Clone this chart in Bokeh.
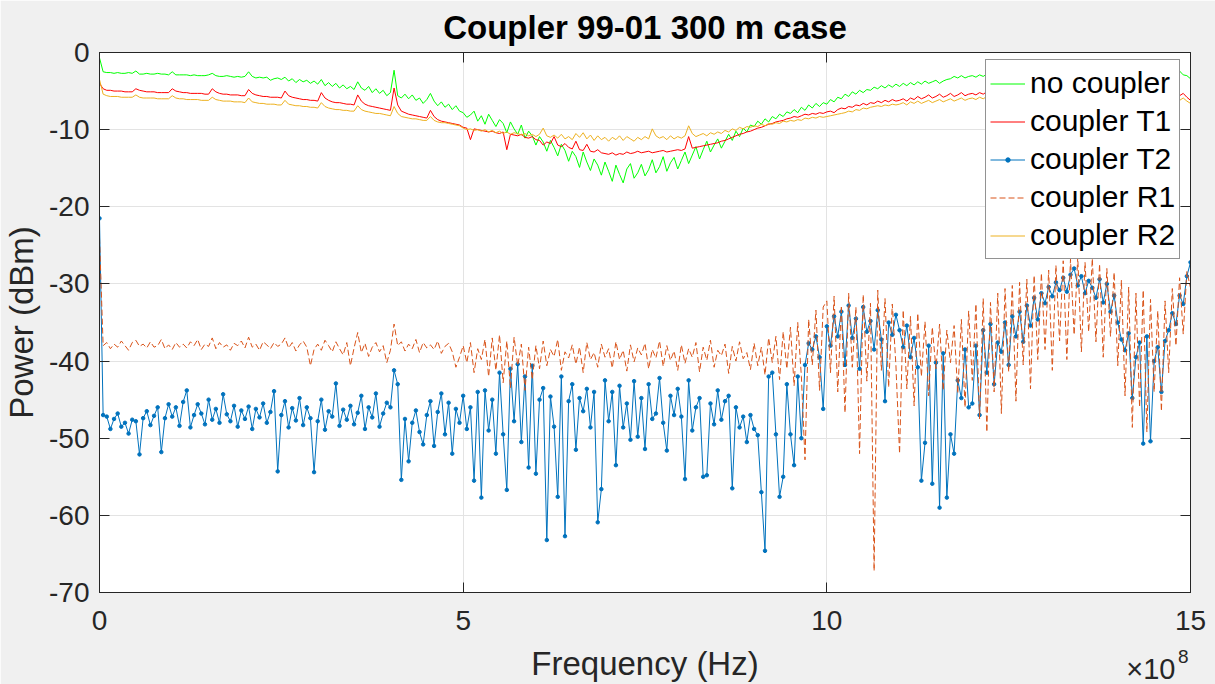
from bokeh.plotting import figure
from bokeh.models import (Range1d, LinearAxis, Legend, LegendItem, Title,
                          CustomJSTickFormatter, FixedTicker)
from bokeh.embed import file_html
from bokeh.resources import INLINE

# Sweep: 0 .. 1.5 GHz in 5 MHz steps
freq_step_hz = 5e6
frequency_hz = [i * freq_step_hz for i in range(301)]

# Measured power (dBm) for each configuration, one row per 100 MHz
no_coupler = [
    -0.7, -2.5, -2.6, -2.6, -2.7, -2.6, -2.7, -2.7, -2.6, -2.7, -2.4, -2.8, -2.8, -2.7, -2.8, -2.8, -2.7, -2.8, -2.8, -2.9,
    -2.5, -2.9, -2.9, -2.9, -2.9, -3.0, -2.9, -3.0, -3.0, -3.0, -2.9, -2.7, -3.0, -3.1, -3.1, -3.0, -3.1, -3.2, -3.1, -3.2,
    -3.1, -2.5, -3.1, -3.3, -3.2, -3.3, -3.2, -3.6, -3.4, -3.3, -3.5, -3.2, -3.7, -3.4, -3.9, -3.5, -3.8, -3.6, -4.0, -3.7,
    -4.1, -3.5, -4.3, -3.9, -4.4, -4.0, -4.6, -4.2, -4.7, -4.4, -4.8, -3.8, -4.6, -4.9, -4.4, -5.2, -4.7, -5.3, -4.9, -5.6,
    -5.2, -2.3, -5.6, -5.9, -5.4, -6.0, -5.5, -6.2, -5.9, -6.6, -6.1, -5.3, -6.3, -6.9, -6.4, -7.1, -6.7, -7.4, -6.9, -7.6,
    -7.8, -8.4, -8.1, -7.6, -8.9, -8.2, -9.3, -8.0, -8.8, -9.6, -8.7, -9.2, -10.4, -9.0, -9.9, -10.6, -9.4, -11.1, -10.2, -10.8,
    -12.0, -10.9, -11.6, -12.8, -11.4, -12.3, -13.4, -11.9, -12.7, -14.1, -12.8, -13.5, -14.9, -12.9, -14.2, -15.3, -13.8, -14.6, -15.9, -14.2,
    -15.4, -16.7, -14.6, -15.8, -16.9, -15.1, -14.4, -16.3, -15.6, -14.5, -16.0, -15.2, -13.9, -15.6, -14.8, -13.5, -15.4, -14.3, -13.6, -15.1,
    -14.0, -12.9, -14.4, -13.3, -12.2, -13.8, -12.6, -11.5, -12.9, -12.0, -11.2, -12.4, -11.5, -10.6, -11.4, -10.2, -10.9, -9.8, -10.3, -9.4,
    -9.6, -8.9, -9.3, -8.6, -9.0, -8.3, -8.6, -8.0, -8.3, -7.7, -7.9, -7.4, -7.8, -7.1, -7.5, -6.8, -7.2, -6.6, -7.0, -6.5,
    -6.7, -6.1, -6.4, -5.8, -6.0, -5.4, -5.7, -5.1, -5.4, -4.9, -5.2, -4.8, -4.9, -4.5, -4.7, -4.3, -4.6, -4.2, -4.5, -4.1,
    -4.4, -4.0, -4.3, -3.9, -4.2, -3.8, -4.1, -3.7, -4.0, -3.8, -3.6, -4.0, -3.7, -3.5, -3.4, -3.1, -3.3, -3.0, -3.3, -3.1,
    -3.0, -3.2, -2.9, -3.1, -2.8, -3.0, -2.9, -2.7, -2.9, -2.6, -2.8, -2.7, -2.5, -2.7, -2.6, -2.4, -2.6, -2.5, -2.3, -2.5,
    -2.4, -2.2, -2.4, -2.3, -2.1, -2.3, -2.2, -2.0, -2.2, -2.1, -1.9, -2.1, -2.0, -1.8, -2.0, -1.9, -1.7, -1.9, -1.8, -1.6,
    -1.8, -1.7, -1.5, -1.7, -1.6, -1.4, -1.7, -1.8, -1.6, -1.9, -2.0, -2.2, -2.1, -2.4, -2.2, -2.5, -2.8, -2.4, -2.9, -3.0,
    -3.4,
]

coupler_t1 = [
    -4.0, -4.7, -4.9, -4.9, -5.0, -5.0, -5.0, -5.1, -5.1, -5.1, -4.7, -4.9, -5.0, -5.1, -5.1, -5.1, -5.2, -5.2, -5.2, -5.2,
    -4.7, -5.0, -5.1, -5.2, -5.2, -5.3, -5.3, -5.3, -5.3, -5.4, -5.4, -4.7, -5.1, -5.3, -5.4, -5.4, -5.5, -5.5, -5.5, -5.6,
    -5.6, -4.8, -5.3, -5.5, -5.6, -5.7, -5.7, -5.8, -5.8, -5.8, -5.9, -5.0, -5.6, -5.8, -5.9, -6.0, -6.1, -6.1, -6.2, -6.2,
    -6.3, -5.2, -5.9, -6.2, -6.4, -6.5, -6.5, -6.6, -6.7, -6.7, -6.8, -5.5, -6.3, -6.7, -6.9, -7.0, -7.1, -7.2, -7.3, -7.4,
    -7.5, -4.6, -6.8, -7.6, -7.8, -8.0, -8.1, -8.2, -8.3, -8.4, -8.5, -7.5, -8.3, -8.7, -8.9, -9.0, -9.1, -9.2, -9.3, -9.4,
    -9.7, -9.8, -11.3, -9.9, -10.0, -10.1, -10.2, -10.3, -10.2, -10.4, -10.5, -10.3, -12.6, -10.6, -10.7, -10.8, -10.6, -11.0, -11.1, -10.9,
    -11.3, -11.4, -12.0, -11.6, -11.8, -10.9, -12.0, -12.2, -11.8, -12.3, -12.5, -11.5, -12.6, -12.7, -11.9, -12.8, -12.9, -12.6, -13.0, -13.1,
    -13.2, -13.0, -13.3, -13.1, -13.2, -12.9, -13.1, -13.0, -12.8, -13.0, -12.9, -12.8, -13.0, -12.9, -12.8, -12.7, -12.9, -12.8, -12.7, -12.6,
    -12.7, -12.5, -10.9, -12.4, -12.3, -12.2, -12.1, -12.0, -11.9, -11.8, -11.7, -11.5, -11.4, -11.2, -11.0, -10.8, -10.6, -10.5, -10.3, -10.2,
    -10.0, -9.8, -9.7, -9.5, -9.3, -9.2, -9.0, -8.9, -8.8, -8.6, -8.5, -8.3, -8.4, -8.2, -8.0, -8.1, -7.9, -8.0, -7.8, -7.9,
    -7.7, -7.6, -7.8, -7.4, -7.2, -7.3, -7.0, -7.1, -6.8, -6.9, -6.6, -6.8, -6.5, -6.6, -6.3, -6.5, -6.2, -6.4, -6.1, -6.3,
    -6.2, -6.0, -6.3, -5.9, -6.1, -5.7, -6.0, -5.8, -5.5, -5.9, -5.7, -5.4, -5.8, -5.6, -5.3, -5.7, -5.5, -5.2, -5.6, -5.4,
    -5.3, -5.5, -5.2, -5.4, -5.1, -5.3, -5.0, -5.2, -4.9, -5.1, -4.8, -5.0, -4.9, -4.7, -4.9, -4.6, -4.8, -4.5, -4.7, -4.6,
    -4.4, -4.6, -4.3, -4.5, -4.2, -4.4, -4.1, -4.3, -4.2, -4.4, -4.1, -4.3, -4.2, -4.4, -4.3, -4.5, -4.4, -4.6, -4.5, -4.7,
    -4.6, -4.8, -4.7, -4.9, -4.8, -5.0, -4.8, -5.1, -4.9, -5.0, -4.8, -5.2, -4.9, -5.3, -5.0, -5.4, -5.1, -5.6, -5.3, -5.8,
    -6.2,
]

coupler_t2 = [
    -21.5, -47.0, -47.2, -48.8, -47.5, -46.8, -48.5, -48.0, -49.4, -47.6, -47.8, -52.1, -47.4, -46.5, -48.3, -47.1, -46.0, -51.8, -47.4, -45.6,
    -47.2, -46.0, -48.4, -45.3, -43.8, -48.6, -47.0, -45.6, -46.8, -48.2, -45.0, -47.6, -46.2, -48.0, -44.3, -46.9, -47.8, -45.8, -48.5, -46.4,
    -47.5, -45.9, -48.8, -46.2, -47.3, -45.5, -48.0, -46.6, -43.9, -54.3, -47.0, -45.2, -48.6, -46.1, -47.7, -44.8, -48.3, -46.0, -47.4, -54.4,
    -47.8, -45.0, -48.9, -46.5, -47.2, -42.9, -48.4, -46.3, -47.6, -45.8, -48.2, -46.7, -44.5, -48.8, -46.0, -47.3, -44.2, -48.5, -46.8, -45.4,
    -46.0, -41.2, -43.0, -55.4, -47.5, -53.0, -48.0, -46.4, -49.2, -50.8, -47.0, -45.2, -51.0, -46.6, -44.2, -49.5, -45.4, -52.0, -46.2, -48.0,
    -44.5, -48.8, -46.0, -55.5, -44.0, -57.7, -43.8, -49.0, -45.0, -52.0, -41.5, -49.5, -56.7, -41.0, -47.8, -40.4, -50.5, -42.0, -53.8, -40.6,
    -54.6, -45.0, -43.5, -63.2, -44.6, -48.5, -57.6, -42.0, -62.7, -45.2, -43.0, -51.5, -44.8, -46.5, -43.6, -48.6, -44.0, -60.9, -56.6, -42.5,
    -47.8, -44.0, -53.5, -43.2, -48.6, -45.5, -50.2, -42.6, -49.8, -44.8, -51.4, -43.0, -47.5, -46.8, -42.2, -48.0, -51.6, -44.5, -47.0, -43.6,
    -47.2, -55.3, -42.5, -49.0, -46.0, -44.8, -55.0, -54.8, -45.5, -48.2, -43.8, -47.6, -45.2, -44.5, -56.5, -46.0, -48.6, -47.2, -50.5, -47.0,
    -48.8, -49.6, -57.0, -64.6, -42.0, -41.5, -49.5, -57.6, -55.0, -43.0, -49.5, -53.5, -42.0, -50.0, -40.5, -37.7, -38.5, -36.8, -39.5, -46.2,
    -35.5, -38.0, -34.2, -36.8, -33.6, -40.5, -32.8, -37.0, -34.5, -41.0, -33.0, -36.2, -34.8, -38.5, -33.4, -37.2, -45.2, -35.0, -36.6, -34.0,
    -36.0, -38.2, -35.4, -39.5, -37.0, -40.8, -55.5, -50.6, -38.0, -55.9, -40.2, -59.0, -39.0, -57.7, -49.5, -52.0, -42.5, -44.8, -38.5, -46.0,
    -45.5, -38.0, -47.0, -36.0, -41.5, -35.2, -43.0, -37.6, -38.8, -35.0, -40.5, -34.2, -36.8, -33.6, -37.5, -32.8, -35.4, -31.8, -34.6, -31.2,
    -32.5, -30.4, -31.6, -29.8, -30.8, -29.2, -31.0, -28.8, -28.0, -30.2, -29.0, -31.2, -29.6, -30.5, -31.8, -29.4, -32.4, -30.0, -33.6, -31.5,
    -35.0, -37.2, -38.6, -36.4, -44.8, -39.5, -37.6, -50.7, -36.8, -50.4, -40.0, -38.2, -44.0, -37.4, -36.0, -33.8, -35.2, -31.5, -32.6, -29.0,
    -27.2,
]

coupler_r1 = [
    -24.0, -38.0, -37.6, -38.4, -37.8, -38.2, -37.4, -38.0, -38.6, -37.6, -37.3, -38.1, -37.8, -38.3, -37.5, -38.2, -38.0, -37.2, -38.4, -37.9,
    -38.5, -37.6, -38.2, -37.8, -38.3, -37.5, -38.0, -37.2, -38.5, -37.8, -38.1, -37.0, -38.4, -37.6, -38.2, -37.9, -38.6, -37.7, -38.0, -37.4,
    -38.3, -36.9, -38.2, -37.8, -38.6, -37.5, -37.9, -38.4, -37.6, -38.1, -37.8, -37.0, -38.3, -37.6, -38.7, -37.9, -37.4, -38.2, -40.6, -38.5,
    -37.8, -38.6, -37.3, -38.0, -38.8, -37.5, -38.4, -39.2, -37.6, -40.6, -38.3, -36.3, -38.9, -37.7, -39.4, -38.2, -37.6, -38.8, -38.0, -40.2,
    -38.6, -35.2, -38.0, -37.5, -38.7, -37.8, -38.4, -37.2, -38.9, -37.6, -38.3, -37.9, -38.5, -37.4, -39.0, -38.1, -37.7, -38.8, -40.8, -39.5,
    -38.0, -40.2, -37.6, -41.5, -38.4, -39.8, -37.2, -42.0, -37.0, -41.2, -36.6, -42.8, -37.4, -43.5, -36.9, -40.6, -37.8, -43.8, -38.2, -42.4,
    -38.0, -41.0, -37.4, -40.6, -38.5, -39.4, -37.2, -41.2, -38.8, -39.6, -37.9, -40.4, -38.2, -41.5, -37.6, -39.8, -38.9, -40.8, -37.8, -39.5,
    -38.4, -40.9, -37.5, -39.8, -38.6, -41.3, -37.9, -40.1, -38.3, -39.2, -37.7, -41.0, -38.5, -39.6, -37.4, -40.7, -38.0, -39.9, -38.7, -41.2,
    -37.9, -40.3, -38.4, -39.5, -37.6, -41.4, -38.2, -39.9, -37.3, -40.8, -38.6, -39.3, -37.8, -41.6, -38.1, -40.0, -37.5, -39.7, -38.9, -41.1,
    -37.7, -40.6, -38.2, -41.8, -37.0, -40.2, -36.8, -42.4, -36.2, -41.0, -35.6, -43.2, -35.0, -42.0, -52.8, -34.6, -40.5, -33.4, -43.8, -33.0,
    -32.2, -41.5, -31.6, -44.0, -32.8, -46.7, -31.2, -40.8, -33.0, -52.0, -31.4, -42.6, -32.5, -67.2, -30.8, -41.2, -31.9, -43.4, -32.6, -40.6,
    -52.0, -33.4, -43.6, -34.2, -45.8, -33.8, -42.0, -34.9, -44.5, -35.6, -41.0, -35.2, -43.8, -36.0, -40.2, -35.4, -44.2, -34.6, -46.0, -33.5,
    -42.5, -32.6, -47.5, -31.9, -49.2, -32.4, -44.0, -31.2, -46.8, -30.6, -41.4, -30.2, -45.2, -29.8, -40.5, -29.4, -43.6, -28.9, -39.8, -28.6,
    -38.5, -28.2, -41.2, -27.6, -37.4, -27.0, -39.8, -26.8, -36.6, -26.5, -38.8, -27.2, -36.2, -26.7, -37.5, -27.4, -39.5, -28.0, -36.8, -28.5,
    -40.6, -29.5, -44.5, -30.4, -48.6, -31.2, -46.0, -30.8, -49.2, -32.0, -44.0, -33.5, -46.5, -32.2, -41.5, -30.6, -38.0, -29.2, -36.5, -28.4,
    -30.5,
]

coupler_r2 = [
    -3.5, -5.4, -5.6, -5.7, -5.7, -5.7, -5.8, -5.8, -5.8, -5.8, -5.5, -5.8, -5.9, -5.9, -5.9, -5.9, -6.0, -6.0, -6.0, -6.0,
    -5.6, -5.9, -6.0, -6.0, -6.1, -6.1, -6.1, -6.1, -6.2, -6.2, -6.2, -5.8, -6.1, -6.2, -6.3, -6.3, -6.3, -6.4, -6.4, -6.4,
    -6.5, -5.9, -6.4, -6.5, -6.6, -6.6, -6.7, -6.7, -6.7, -6.8, -6.8, -6.2, -6.7, -6.8, -6.9, -6.9, -7.0, -7.0, -7.1, -7.1,
    -7.2, -6.5, -7.0, -7.2, -7.3, -7.4, -7.4, -7.5, -7.5, -7.6, -7.6, -6.9, -7.4, -7.6, -7.7, -7.8, -7.9, -7.9, -8.0, -8.1,
    -8.2, -7.0, -7.9, -8.3, -8.4, -8.5, -8.6, -8.6, -8.7, -8.8, -8.8, -8.3, -8.8, -9.0, -9.1, -9.1, -9.2, -9.3, -9.4, -9.5,
    -9.8, -10.0, -9.9, -10.1, -10.0, -10.2, -10.0, -10.3, -10.1, -10.4, -10.2, -10.5, -10.3, -10.6, -10.4, -10.5, -10.7, -10.5, -10.8, -10.6,
    -10.9, -10.6, -9.8, -10.8, -11.0, -10.7, -11.1, -10.6, -11.2, -10.9, -11.3, -10.5, -11.0, -10.4, -11.2, -10.7, -11.4, -10.8, -11.3, -11.0,
    -11.5, -11.0, -11.3, -10.8, -11.4, -10.9, -11.2, -11.5, -11.0, -11.3, -10.9, -11.2, -9.9, -10.8, -11.1, -10.9, -11.3, -10.8, -11.2, -10.9,
    -11.1, -10.8, -9.5, -10.5, -10.9, -10.7, -10.5, -10.8, -10.4, -10.6, -10.3, -10.5, -10.1, -10.3, -9.9, -10.1, -9.7, -9.9, -9.6, -9.7,
    -9.5, -9.6, -9.3, -9.5, -9.2, -9.3, -9.1, -9.2, -8.9, -9.0, -8.8, -8.9, -8.7, -8.8, -8.5, -8.6, -8.4, -8.5, -8.3, -8.4,
    -8.3, -8.2, -8.1, -8.0, -7.9, -7.8, -7.6, -7.7, -7.4, -7.5, -7.2, -7.3, -7.1, -7.0, -6.9, -7.0, -6.8, -6.9, -6.7, -6.8,
    -6.7, -6.5, -6.8, -6.4, -6.6, -6.3, -6.6, -6.4, -6.2, -6.5, -6.3, -6.1, -6.4, -6.2, -6.0, -6.3, -6.1, -5.9, -6.2, -6.0,
    -5.9, -6.1, -5.8, -6.0, -5.7, -5.9, -5.6, -5.8, -5.5, -5.7, -5.4, -5.6, -5.5, -5.3, -5.5, -5.2, -5.4, -5.1, -5.3, -5.2,
    -5.0, -5.2, -4.9, -5.1, -4.8, -5.0, -4.7, -4.9, -4.8, -5.0, -4.7, -4.9, -4.8, -5.0, -4.9, -5.1, -5.0, -5.2, -5.1, -5.3,
    -5.2, -5.4, -5.3, -5.5, -5.4, -5.6, -5.4, -5.7, -5.5, -5.6, -5.4, -5.8, -5.5, -5.9, -5.6, -6.0, -5.7, -6.2, -5.9, -6.3,
    -6.6,
]

x_tick_values = [0, 5e8, 1e9, 1.5e9]
y_tick_values = [-70, -60, -50, -40, -30, -20, -10, 0]

FONT = "Liberation Sans"
AXIS_COLOR = "#262626"

p = figure(width=1215, height=684, output_backend="svg", toolbar_location=None,
           x_range=Range1d(0, 1.5e9), y_range=Range1d(-70, 0),
           min_border_left=98, min_border_right=25,
           min_border_top=52, min_border_bottom=92,
           border_fill_color="#f0f0f0", background_fill_color="white",
           outline_line_color=AXIS_COLOR, outline_line_width=1)

p.title.text = "Coupler 99-01 300 m case"
p.title.align = "center"
p.title.text_font = FONT
p.title.text_font_size = "33px"
p.title.text_font_style = "bold"
p.title.text_color = "black"
p.title.standoff = 13

x_fmt = CustomJSTickFormatter(code="return (tick / 1e8).toFixed(0);")
y_fmt = CustomJSTickFormatter(code="return tick.toFixed(0);")

for ax in p.xaxis:
    ax.ticker = FixedTicker(ticks=x_tick_values)
    ax.formatter = x_fmt
    ax.axis_label = "Frequency (Hz)"
    ax.major_label_standoff = 18
    ax.axis_label_standoff = 12
for ax in p.yaxis:
    ax.ticker = FixedTicker(ticks=y_tick_values)
    ax.formatter = y_fmt
    ax.axis_label = "Power (dBm)"
    ax.major_label_standoff = 10
    ax.axis_label_standoff = 6

for ax in list(p.xaxis) + list(p.yaxis):
    ax.major_label_text_font = FONT
    ax.major_label_text_font_size = "28px"
    ax.major_label_text_color = AXIS_COLOR
    ax.axis_label_text_font = FONT
    ax.axis_label_text_font_size = "33px"
    ax.axis_label_text_font_style = "normal"
    ax.axis_label_text_color = AXIS_COLOR
    ax.axis_line_color = AXIS_COLOR
    ax.major_tick_line_color = AXIS_COLOR
    ax.major_tick_in = 10
    ax.major_tick_out = 0
    ax.minor_tick_line_color = None

# Box ticks on the top and right edges (tick marks only, no labels)
top_axis = LinearAxis(ticker=FixedTicker(ticks=[], minor_ticks=x_tick_values),
                      major_tick_line_color=None, minor_tick_in=10, minor_tick_out=0,
                      minor_tick_line_color=AXIS_COLOR, axis_line_color=AXIS_COLOR)
right_axis = LinearAxis(ticker=FixedTicker(ticks=[], minor_ticks=y_tick_values),
                        major_tick_line_color=None, minor_tick_in=10, minor_tick_out=0,
                        minor_tick_line_color=AXIS_COLOR, axis_line_color=AXIS_COLOR)
p.add_layout(top_axis, "above")
p.add_layout(right_axis, "right")

# Exponent of the frequency axis, tucked under the right end of the axis
p.add_layout(Title(text="\u00d710", align="right", offset=15, vertical_align="top",
                   standoff=-64, text_font=FONT, text_font_size="29px",
                   text_font_style="normal", text_color=AXIS_COLOR), "below")
p.add_layout(Title(text="8", align="right", offset=2, vertical_align="top",
                   standoff=-70, text_font=FONT, text_font_size="19px",
                   text_font_style="normal", text_color=AXIS_COLOR), "below")

p.xgrid.ticker = FixedTicker(ticks=x_tick_values)
p.ygrid.ticker = FixedTicker(ticks=y_tick_values)
for g in (p.xgrid, p.ygrid):
    g.grid_line_color = "#e3e3e3"
    g.grid_line_width = 1

r_none = p.line(frequency_hz, no_coupler, line_color="#00FF00", line_width=1)
r_t1 = p.line(frequency_hz, coupler_t1, line_color="#FF0000", line_width=1)
r_t2 = p.line(frequency_hz, coupler_t2, line_color="#0072BD", line_width=1)
r_t2m = p.scatter(frequency_hz, coupler_t2, marker="circle", size=3.5,
                  fill_color="#0072BD", line_color="#0072BD")
r_r1 = p.line(frequency_hz, coupler_r1, line_color="#D95319", line_width=1, line_dash="6 3")
r_r2 = p.line(frequency_hz, coupler_r2, line_color="#EDB120", line_width=1)

legend = Legend(items=[
    LegendItem(label="no coupler", renderers=[r_none]),
    LegendItem(label="coupler T1", renderers=[r_t1]),
    LegendItem(label="coupler T2", renderers=[r_t2, r_t2m]),
    LegendItem(label="coupler R1", renderers=[r_r1]),
    LegendItem(label="coupler R2", renderers=[r_r2]),
], location=(886, 333))
legend.label_text_font = FONT
legend.label_text_font_size = "30px"
legend.label_text_color = "black"
legend.glyph_width = 35
legend.glyph_height = 11
legend.label_height = 38
legend.label_standoff = 5
legend.spacing = 0
legend.padding = 4
legend.margin = 0
legend.border_line_color = AXIS_COLOR
legend.border_line_width = 1
legend.background_fill_color = "white"
legend.background_fill_alpha = 1.0
p.add_layout(legend)

open("out.html", "w").write(file_html(p, INLINE))
